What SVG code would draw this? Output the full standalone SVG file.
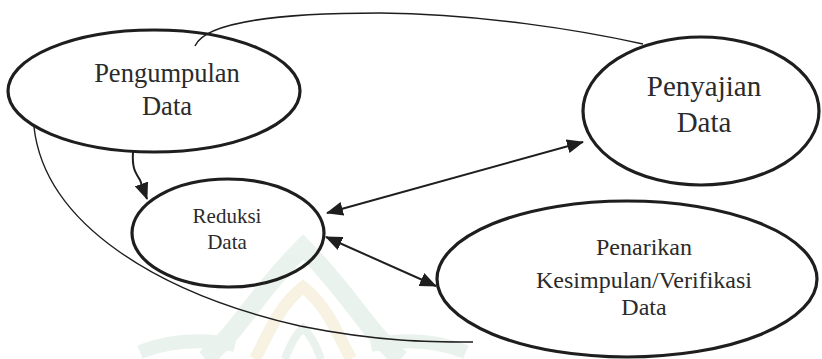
<svg xmlns="http://www.w3.org/2000/svg" width="822" height="359" viewBox="0 0 822 359">
<style>
.node ellipse{fill:none;stroke:#1e1e1e;stroke-width:3.2}
.lbl{fill:#2b2b2b;text-anchor:middle;font-family:'Liberation Serif','Times New Roman',serif}
.conn{fill:none;stroke:#1e1e1e}
.thin{stroke-width:1.4}
.mid{stroke-width:2}
.wm{fill:none;stroke-linecap:butt}
</style>
<defs>
<marker id="ah" markerUnits="userSpaceOnUse" markerWidth="18" markerHeight="14" refX="16" refY="7" orient="auto-start-reverse" viewBox="0 0 18 14">
<path d="M0,0 L17,7 L0,14 Z" fill="#1e1e1e"/>
</marker>
</defs>
<g id="watermark" opacity="0.6">
<path class="wm" d="M205,359 C240,330 255,295 303,247 C351,295 366,330 401,359" stroke="#dcebe1" stroke-width="18"/>
<path class="wm" d="M255,359 C270,330 280,305 303,287 C326,305 336,330 351,359" stroke="#f3ead0" stroke-width="12"/>
<path class="wm" d="M285,359 C290,345 295,335 303,328 C311,335 316,345 321,359" stroke="#dcebe1" stroke-width="8"/>
<path class="wm" d="M140,352 C170,340 200,338 235,345" stroke="#dcebe1" stroke-width="14"/>
<path class="wm" d="M371,345 C406,338 436,340 466,352" stroke="#dcebe1" stroke-width="14"/>
</g>
<g id="connectors">
<path class="conn thin" d="M195,46 C205,22 280,13 380,13 C480,14 580,30 643,44"/>
<path class="conn mid" d="M133,152 C132,168 135,172 140,180 L147,199" marker-end="url(#ah)"/>
<path class="conn mid" d="M327,213 L583,142" marker-start="url(#ah)" marker-end="url(#ah)"/>
<path class="conn mid" d="M326,237 L436,286" marker-start="url(#ah)" marker-end="url(#ah)"/>
<path class="conn thin" d="M34,127 C45,225 160,294 300,326 C380,342 430,342 473,342"/>
</g>
<g id="pengumpulan" class="node">
<ellipse cx="154" cy="91" rx="146" ry="61"/>
<text class="lbl" x="167" y="82" font-size="26.5">Pengumpulan</text>
<text class="lbl" x="167" y="115" font-size="26.5">Data</text>
</g>
<g id="reduksi" class="node">
<ellipse cx="228" cy="233" rx="96" ry="54"/>
<text class="lbl" x="227" y="223" font-size="21">Reduksi</text>
<text class="lbl" x="227" y="249" font-size="21">Data</text>
</g>
<g id="penyajian" class="node">
<ellipse cx="701" cy="111" rx="118" ry="74"/>
<text class="lbl" x="704" y="96" font-size="29">Penyajian</text>
<text class="lbl" x="704" y="132" font-size="29">Data</text>
</g>
<g id="penarikan" class="node">
<ellipse cx="627" cy="279" rx="190" ry="78"/>
<text class="lbl" x="644" y="255" font-size="24">Penarikan</text>
<text class="lbl" x="644" y="288" font-size="24">Kesimpulan/Verifikasi</text>
<text class="lbl" x="644" y="315" font-size="24">Data</text>
</g>
</svg>
